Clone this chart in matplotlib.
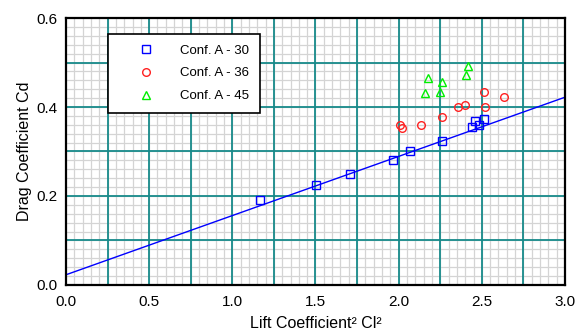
import numpy as np
import matplotlib
matplotlib.use("Agg")
from matplotlib import pyplot as plt
from matplotlib.ticker import MultipleLocator, FuncFormatter

plt.rcParams['font.family'] = ['Liberation Sans', 'DejaVu Sans']
plt.rcParams['font.size'] = 11

# Cl^2 / Cd pairs per configuration
cl2_a30 = [1.166, 1.501, 1.707, 1.968, 2.070, 2.262, 2.443, 2.459, 2.485, 2.511]
cd_a30 = [0.191, 0.225, 0.249, 0.282, 0.302, 0.324, 0.354, 0.368, 0.359, 0.372]

cl2_a36 = [2.010, 2.022, 2.132, 2.259, 2.357, 2.397, 2.515, 2.521, 2.631]
cd_a36 = [0.360, 0.352, 0.359, 0.378, 0.399, 0.405, 0.434, 0.401, 0.422]

cl2_a45 = [2.174, 2.156, 2.259, 2.250, 2.407, 2.417]
cd_a45 = [0.466, 0.432, 0.456, 0.433, 0.473, 0.492]

# drag polar fit  Cd = cd0 + k * Cl^2
cd0 = 0.023
k = 0.1330

fig = plt.figure(figsize=(5.83, 3.31), dpi=100)
ax = fig.add_axes([0.1132, 0.139, 0.8559, 0.8066])

ax.set_xlim(0, 3.0)
ax.set_ylim(0, 0.6)

# graph-paper grid: light minor lines, teal major lines on top
for gx in np.arange(0.05, 3.0, 0.05):
    ax.axvline(gx, color='#d4d4d4', lw=0.9, zorder=0.5)
for gy in np.arange(0.02, 0.6, 0.02):
    ax.axhline(gy, color='#d4d4d4', lw=0.9, zorder=0.5)
for gx in np.arange(0.25, 3.0, 0.25):
    ax.axvline(gx, color='#178a8a', lw=1.3, zorder=1)
for gy in np.arange(0.1, 0.6, 0.1):
    ax.axhline(gy, color='#178a8a', lw=1.3, zorder=1)

ms = 5.5
ax.plot(cl2_a30, cd_a30, 's', mfc='none', mec='#0000ff', mew=1.0, ms=ms,
        label='Conf. A - 30', zorder=4)
ax.plot(cl2_a36, cd_a36, 'o', mfc='none', mec='#ff2020', mew=1.0, ms=ms,
        label='Conf. A - 36', zorder=4)
ax.plot(cl2_a45, cd_a45, '^', mfc='none', mec='#00ee00', mew=1.0, ms=ms + 0.5,
        label='Conf. A - 45', zorder=4)

xs = np.array([0.0, 3.0])
ax.plot(xs, cd0 + k * xs, '-', color='#0000ff', lw=1.0, zorder=3)

ax.xaxis.set_major_locator(MultipleLocator(0.5))
ax.yaxis.set_major_locator(MultipleLocator(0.2))
ax.xaxis.set_major_formatter(FuncFormatter(lambda v, p: '{:.1f}'.format(v)))
ax.yaxis.set_major_formatter(FuncFormatter(lambda v, p: '{:.1f}'.format(v)))

ax.tick_params(which='both', length=0)
ax.tick_params(axis='x', pad=7)
ax.tick_params(axis='y', pad=6)

for s in ax.spines.values():
    s.set_linewidth(1.6)
    s.set_color('black')
    s.set_zorder(5)

ax.set_xlabel('Lift Coefficient² Cl²', fontsize=11.5, labelpad=5)
ax.set_ylabel('Drag Coefficient Cd', fontsize=11.5, labelpad=3)

leg = ax.legend(loc='upper left', bbox_to_anchor=(0.084, 0.94), borderaxespad=0,
                fontsize=9.5, handlelength=4.2, handletextpad=0.5,
                labelspacing=0.79, borderpad=0.8, fancybox=False, framealpha=1,
                edgecolor='black')
leg.get_frame().set_linewidth(1.2)
leg.set_zorder(6)

fig.savefig('out.png', dpi=100)
